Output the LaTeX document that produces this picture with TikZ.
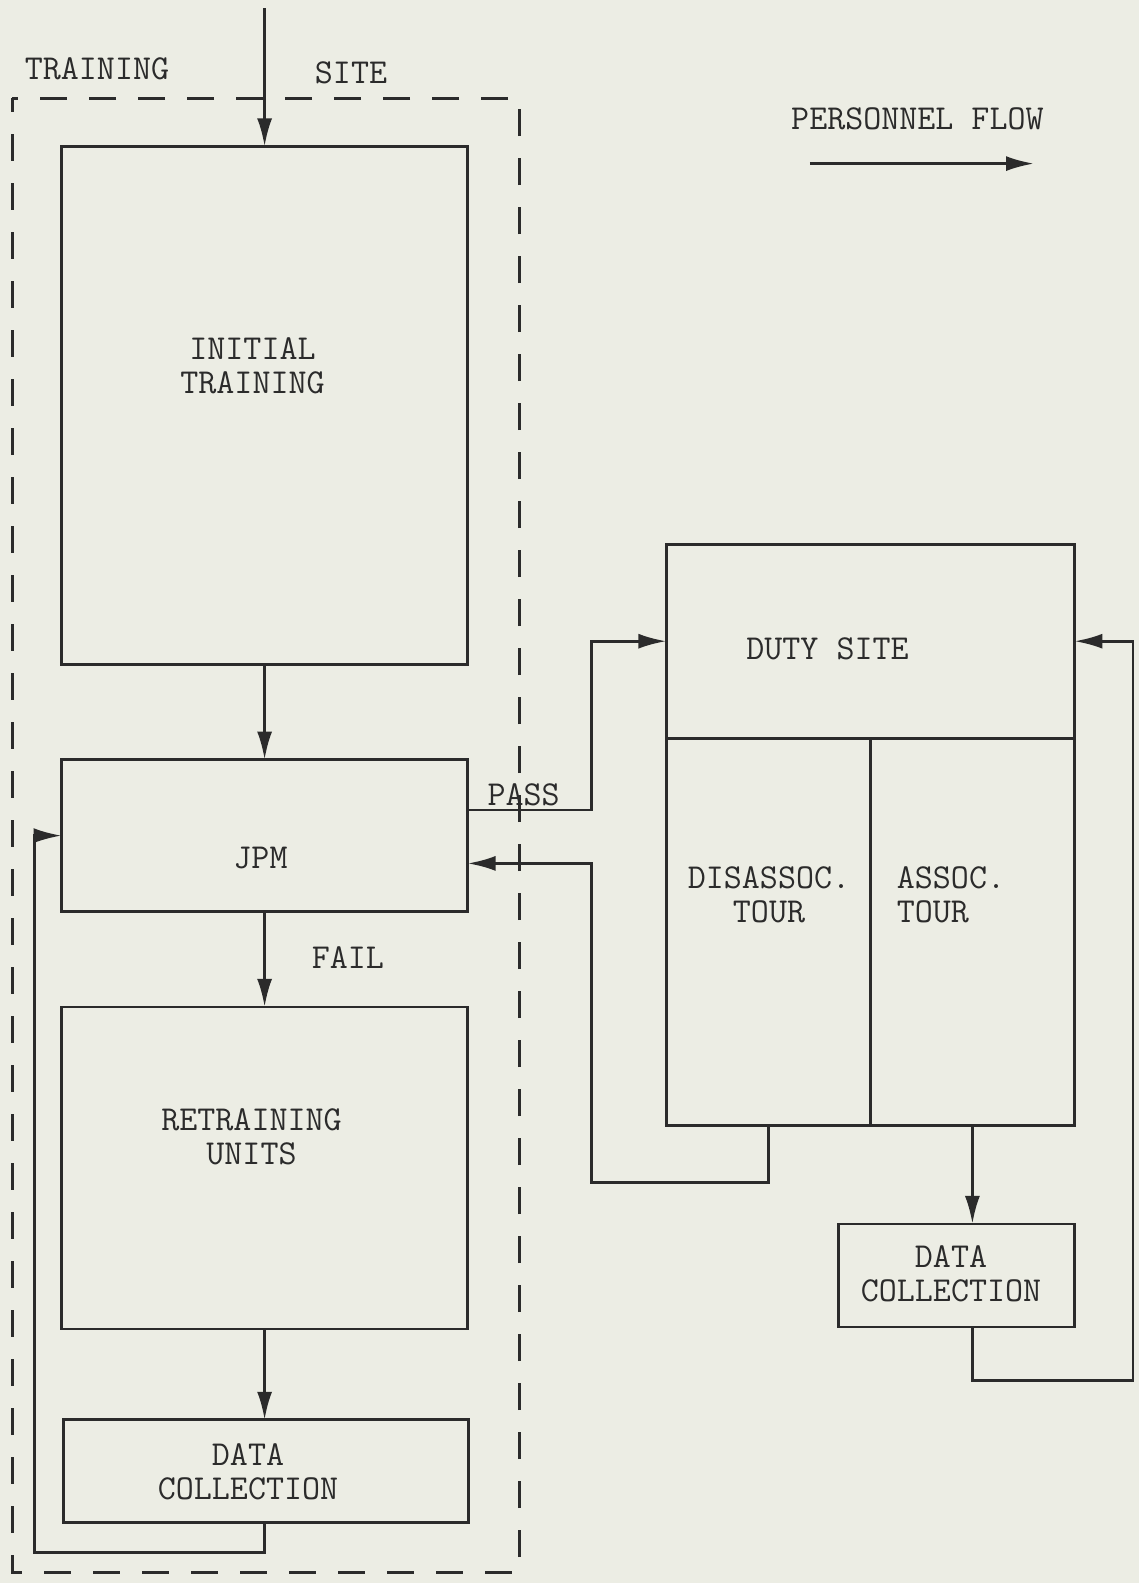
\documentclass[tikz,border=0pt]{standalone}
\usepackage{fontspec}
\usetikzlibrary{arrows.meta,calc,positioning}
\definecolor{fdPaper}{HTML}{ECEDE4}
\definecolor{fdInk}{HTML}{2B2B2B}

\begin{document}
\begin{tikzpicture}[x=1pt,y=-1pt,>={Latex[length=28pt,width=15pt]},
  box/.style={draw=fdInk,line width=2.8pt,inner sep=0pt,outer sep=0pt},
  lbl/.style={text=fdInk,font=\ttfamily\fontsize{35}{34}\selectfont,align=center,inner sep=0pt},
  flow/.style={->,draw=fdInk,line width=2.8pt},
  wire/.style={draw=fdInk,line width=2.8pt}]
\fill[fdPaper] (0,0) rectangle (1139,1583);
\useasboundingbox (0,0) rectangle (1139,1583);
% training site
\draw[fdInk,line width=3pt,dash pattern=on 27pt off 22pt,dash phase=13pt] (12,98) rectangle (519,1572);
\node[lbl] (siteA) at (97,68.7) {TRAINING};
\node[lbl] (siteB) at (351,72.7) {SITE};
% legend
\node[lbl] (legend) at (917.4,119.2) {PERSONNEL FLOW};
\coordinate (legA) at (809.9,163.6);
\coordinate (legB) at (1034,163.6);
\draw[flow] (legA) -- (legB);
% boxes of the training site
\node[box,minimum width=406pt,minimum height=518pt] (init) at (264.6,405.4) {};
\node[lbl] (initT) at (252.5,365.5) {INITIAL\\TRAINING};
\node[box,minimum width=406pt,minimum height=152pt] (jpm) at (264.6,835.6) {};
\node[lbl] (jpmT) at (260.5,858.3) {JPM};
\node[box,minimum width=406pt,minimum height=322pt] (retrain) at (264.6,1167.9) {};
\node[lbl] (retrainT) at (251.5,1136.5) {RETRAINING\\UNITS};
\node[box,minimum width=405pt,minimum height=103pt] (dcA) at (266,1471.3) {};
\node[lbl] (dcAT) at (248,1471.3) {DATA\\COLLECTION};
% duty site
\node[box,minimum width=408pt,minimum height=194pt] (duty) at (870.4,641.2) {};
\node[lbl] (dutyT) at (827.5,648.3) {DUTY SITE};
\node[box,minimum width=204pt,minimum height=387pt] (disA) at (768.5,931.6) {};
\node[lbl] (disAT) at (769,894.7) {DISASSOC.\\TOUR};
\node[box,minimum width=204pt,minimum height=387pt] (asc) at (972.4,931.6) {};
\node[lbl,align=left,anchor=west] (ascT) at (896.7,894.7) {ASSOC.\\TOUR};
\node[box,minimum width=236pt,minimum height=103pt] (dcB) at (956.3,1275.4) {};
\node[lbl] (dcBT) at (951,1274) {DATA\\COLLECTION};
% personnel flow
\coordinate (entry) at (264.6,8);
\draw[flow] (entry) -- (init.north);
\draw[flow] (init.south) -- (jpm.north);
\draw[flow] (jpm.south) -- (retrain.north);
\node[lbl] (fail) at (347.9,957.3) {FAIL};
\draw[flow] (retrain.south) -- (retrain.south |- dcA.north);
\draw[flow] (retrain.south |- dcA.south) -- ++(0,30) -| ($(jpm.west)+(-27.3,0)$) -- (jpm.west);
\coordinate (passJ) at ($(jpm.east)+(0,-25.7)$);
\coordinate (retJ) at ($(jpm.east)+(0,27.8)$);
\node[lbl] (pass) at (523.6,794.7) {PASS};
\draw[flow] (passJ) -- ++(124.2,0) |- (duty.west);
\draw[flow] (disA.south) -- ++(0,57.6) -| ($(retJ)+(124.2,0)$) -- (retJ);
\draw[flow] (asc.south) -- (asc.south |- dcB.north);
\draw[flow] (asc.south |- dcB.south) -- ++(0,53.5) -| ($(duty.east)+(58.6,0)$) -- (duty.east);
\end{tikzpicture}
\end{document}
